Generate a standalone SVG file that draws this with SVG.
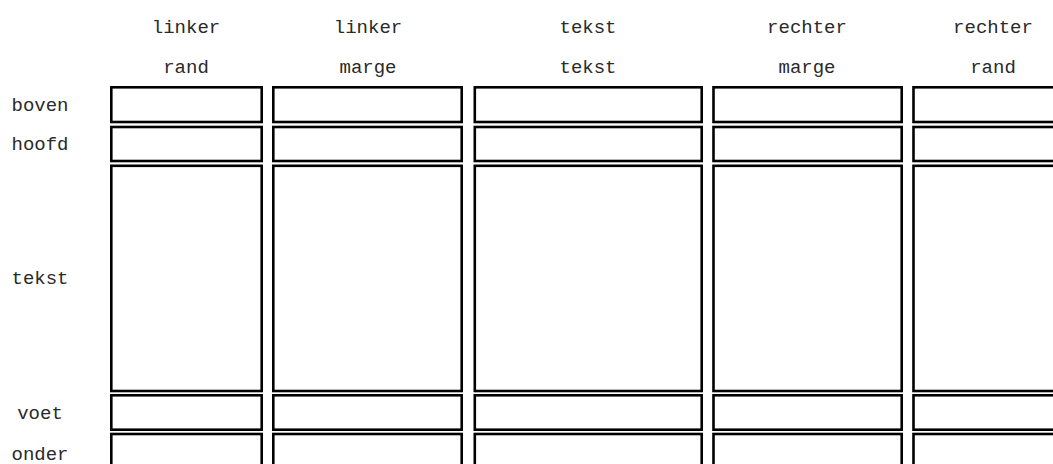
<svg xmlns="http://www.w3.org/2000/svg" width="1053" height="464" viewBox="0 0 1053 464">
  <style>
    .cell { fill: #ffffff; stroke: #000000; stroke-width: 2.6; }
    .lbl { font-family: "Liberation Mono", "Courier New", monospace; font-size: 19px; fill: #2a2a2a; text-anchor: middle; }
  </style>
  <rect width="1053" height="464" fill="#ffffff"/>

  <!-- column headers -->
  <g id="col-linker-rand"><text class="lbl" x="186" y="33">linker</text><text class="lbl" x="186" y="73">rand</text></g>
  <g id="col-linker-marge"><text class="lbl" x="368" y="33">linker</text><text class="lbl" x="368" y="73">marge</text></g>
  <g id="col-tekst"><text class="lbl" x="588" y="33">tekst</text><text class="lbl" x="588" y="73">tekst</text></g>
  <g id="col-rechter-marge"><text class="lbl" x="807" y="33">rechter</text><text class="lbl" x="807" y="73">marge</text></g>
  <g id="col-rechter-rand"><text class="lbl" x="993" y="33">rechter</text><text class="lbl" x="993" y="73">rand</text></g>

  <!-- row labels -->
  <g id="row-boven"><text class="lbl" x="40" y="111">boven</text></g>
  <g id="row-hoofd"><text class="lbl" x="40" y="150">hoofd</text></g>
  <g id="row-tekst"><text class="lbl" x="40" y="284">tekst</text></g>
  <g id="row-voet"><text class="lbl" x="40" y="419">voet</text></g>
  <g id="row-onder"><text class="lbl" x="40" y="460">onder</text></g>

  <!-- page area grid: one column of cells per group -->
  <g id="grid-linker-rand">
    <rect class="cell" x="111.3" y="87.3" width="150.4" height="34.7"/>
    <rect class="cell" x="111.3" y="127" width="150.4" height="34"/>
    <rect class="cell" x="111.3" y="165.8" width="150.4" height="225.2"/>
    <rect class="cell" x="111.3" y="395.3" width="150.4" height="34.4"/>
    <rect class="cell" x="111.3" y="434" width="150.4" height="60"/>
  </g>
  <g id="grid-linker-marge">
    <rect class="cell" x="273.3" y="87.3" width="188.4" height="34.7"/>
    <rect class="cell" x="273.3" y="127" width="188.4" height="34"/>
    <rect class="cell" x="273.3" y="165.8" width="188.4" height="225.2"/>
    <rect class="cell" x="273.3" y="395.3" width="188.4" height="34.4"/>
    <rect class="cell" x="273.3" y="434" width="188.4" height="60"/>
  </g>
  <g id="grid-tekst">
    <rect class="cell" x="474.8" y="87.3" width="226.9" height="34.7"/>
    <rect class="cell" x="474.8" y="127" width="226.9" height="34"/>
    <rect class="cell" x="474.8" y="165.8" width="226.9" height="225.2"/>
    <rect class="cell" x="474.8" y="395.3" width="226.9" height="34.4"/>
    <rect class="cell" x="474.8" y="434" width="226.9" height="60"/>
  </g>
  <g id="grid-rechter-marge">
    <rect class="cell" x="713.5" y="87.3" width="188.2" height="34.7"/>
    <rect class="cell" x="713.5" y="127" width="188.2" height="34"/>
    <rect class="cell" x="713.5" y="165.8" width="188.2" height="225.2"/>
    <rect class="cell" x="713.5" y="395.3" width="188.2" height="34.4"/>
    <rect class="cell" x="713.5" y="434" width="188.2" height="60"/>
  </g>
  <g id="grid-rechter-rand">
    <rect class="cell" x="913.5" y="87.3" width="160" height="34.7"/>
    <rect class="cell" x="913.5" y="127" width="160" height="34"/>
    <rect class="cell" x="913.5" y="165.8" width="160" height="225.2"/>
    <rect class="cell" x="913.5" y="395.3" width="160" height="34.4"/>
    <rect class="cell" x="913.5" y="434" width="160" height="60"/>
  </g>
</svg>
